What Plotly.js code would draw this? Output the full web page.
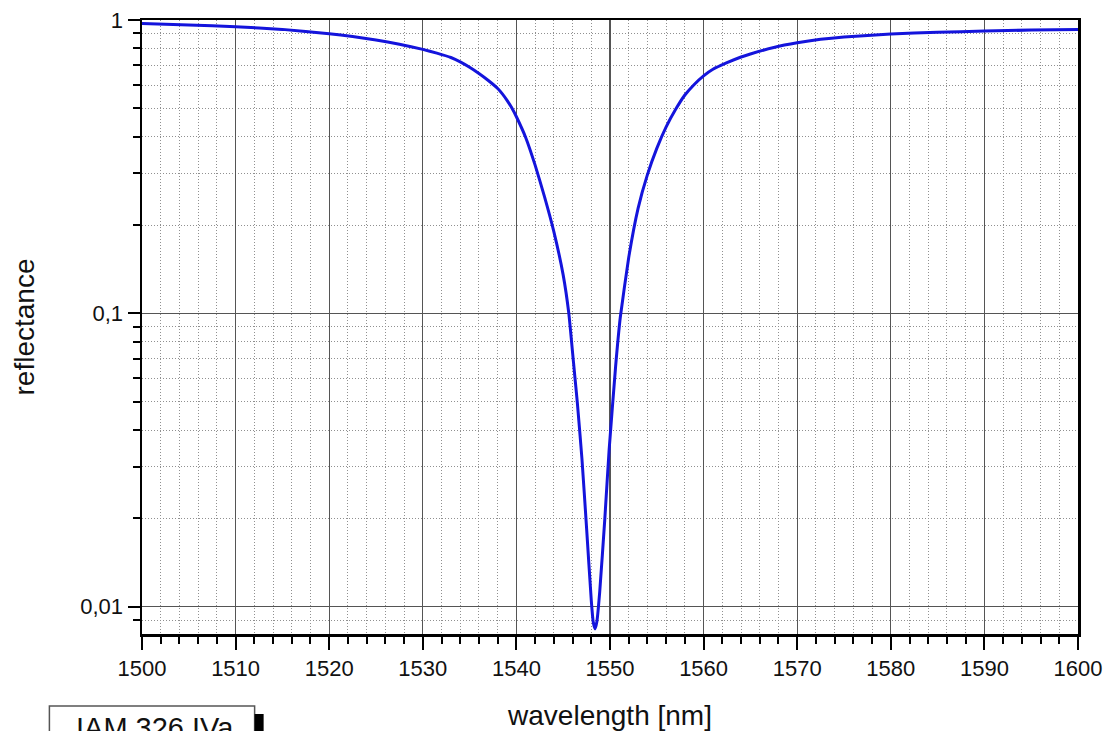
<!DOCTYPE html>
<html>
<head>
<meta charset="utf-8">
<script src="https://cdn.plot.ly/plotly-3.0.1.min.js"></script>
<style>html,body{margin:0;padding:0;background:#fff;}#chart{width:1111px;height:731px;}</style>
</head>
<body>
<div id="chart"></div>
<script>
const wavelength = [1500,1505,1510,1515,1520,1522.5,1525,1527.5,1530,1531.5,1533,1534,1535,1536,1537,1538,1538.5,1539,1539.5,1540,1541,1542,1543,1544,1545,1545.6,1546.1,1546.5,1547.0,1547.5,1548.0,1548.2,1548.4,1548.6,1548.9,1549.45,1549.9,1550.6,1551.1,1552,1553,1554,1555,1556,1557,1558,1559,1560,1561,1562.5,1564,1565,1567.5,1570,1572.5,1575,1580,1585,1590,1595,1600];
const reflectance = [0.972,0.962,0.949,0.929,0.898,0.878,0.855,0.827,0.794,0.771,0.745,0.72,0.69,0.657,0.622,0.584,0.56,0.532,0.502,0.468,0.397,0.32,0.25,0.19,0.135,0.1,0.068,0.05,0.032,0.0185,0.0105,0.0089,0.0084,0.0089,0.0112,0.02,0.034,0.066,0.097,0.155,0.228,0.297,0.365,0.432,0.495,0.555,0.603,0.645,0.679,0.715,0.748,0.766,0.806,0.836,0.859,0.875,0.896,0.908,0.917,0.924,0.929];
const xMinorVals = [1502,1504,1506,1508,1512,1514,1516,1518,1522,1524,1526,1528,1532,1534,1536,1538,1542,1544,1546,1548,1552,1554,1556,1558,1562,1564,1566,1568,1572,1574,1576,1578,1582,1584,1586,1588,1592,1594,1596,1598];
const yTickVals = [0.01,0.1,1];
const yTickText = ['0,01','0,1','1'];
const yMinorVals = [0.009,0.02,0.03,0.04,0.05,0.06,0.07,0.08,0.09,0.2,0.3,0.4,0.5,0.6,0.7,0.8,0.9];
const xTitle = 'wavelength [nm]';
const yTitle = 'reflectance';
const stamp = 'IAM 326 IVa';

const font = 'Liberation Sans, Arial, sans-serif';
const trace = {x: wavelength, y: reflectance, type:'scatter', mode:'lines', line:{color:'#1414dc', width:3, shape:'spline', smoothing:0.4}, hoverinfo:'skip'};
const layout = {
  width:1111, height:731,
  margin:{l:142, r:33, t:20, b:97},
  paper_bgcolor:'#fff', plot_bgcolor:'#fff',
  showlegend:false,
  font:{family:font, color:'#111'},
  xaxis:{
    range:[1500,1600], dtick:10, tick0:1500,
    showline:true, linecolor:'#000', linewidth:2.5, mirror:true,
    ticks:'outside', ticklen:13, tickwidth:2, tickcolor:'#000',
    tickfont:{size:22, family:font, color:'#111'},
    showgrid:true, gridcolor:'#555', gridwidth:1.3,
    zeroline:false,
    minor:{tickvals:xMinorVals, ticks:'outside', ticklen:7, tickwidth:2, tickcolor:'#000', showgrid:true, gridcolor:'#909090', griddash:'1px,2px', gridwidth:1},
    title:{text:xTitle, font:{size:28, family:font, color:'#111'}, standoff:28}
  },
  yaxis:{
    type:'log', range:[Math.log10(0.00807), 0],
    tickvals:yTickVals, ticktext:yTickText,
    showline:true, linecolor:'#000', linewidth:2.5, mirror:true,
    ticks:'outside', ticklen:12, tickwidth:2, tickcolor:'#000',
    tickfont:{size:22, family:font, color:'#111'},
    showgrid:true, gridcolor:'#555', gridwidth:1.3,
    zeroline:false,
    minor:{tickvals:yMinorVals, ticks:'outside', ticklen:7, tickwidth:2, tickcolor:'#000', showgrid:true, gridcolor:'#909090', griddash:'1px,2px', gridwidth:1},
    title:{text:yTitle, font:{size:28, family:font, color:'#111'}, standoff:38}
  },
  shapes:[
    {type:'rect', xref:'paper', yref:'paper', x0:(50-142.5)/935, x1:(255-142.5)/935, y0:(634-745)/614, y1:(634-706)/614, line:{color:'#555', width:1.5}, fillcolor:'#fff'},
    {type:'rect', xref:'paper', yref:'paper', x0:(255-142.5)/935, x1:(264-142.5)/935, y0:(634-745)/614, y1:(634-714)/614, line:{width:0}, fillcolor:'#000'}
  ],
  annotations:[
    {xref:'paper', yref:'paper', x:(155-142.5)/935, y:(634-710)/614, xanchor:'center', yanchor:'top', text:stamp, showarrow:false, font:{size:29, family:font, color:'#111'}}
  ]
};
Plotly.newPlot('chart', [trace], layout, {displayModeBar:false, staticPlot:true});
</script>
</body>
</html>
